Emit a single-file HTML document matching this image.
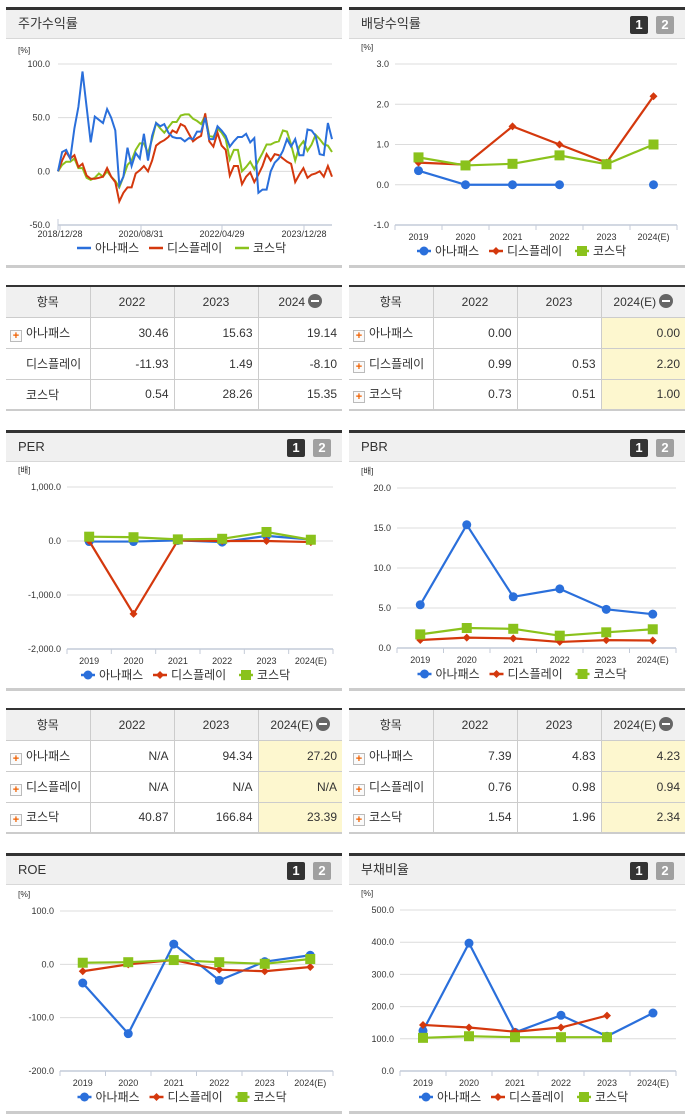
<!DOCTYPE html>
<html><head><meta charset="utf-8">
<style>
*{margin:0;padding:0;box-sizing:border-box}
body{width:691px;height:1115px;background:#fff;position:relative;overflow:hidden;font-family:"Liberation Sans","Noto Sans CJK KR",sans-serif;color:#333}
.hdr{position:absolute;height:32px;background:#f0f0f0;border-top:3px solid #333;border-bottom:1px solid #d8d8d8;font-size:13px;line-height:28px;padding-left:12px}
.btn{position:absolute;top:6px;width:18px;height:18px;font-size:13px;font-weight:bold;color:#fff;text-align:center;line-height:18px;border-radius:2px}
.b1{background:#333;right:37px}.b2{background:#a0a0a0;right:11px}
.foot{position:absolute;height:3px;background:#ccc}
table{position:absolute;border-collapse:collapse;border-top:2px solid #333;border-bottom:2px solid #ccc;font-size:12px;width:336px;table-layout:fixed}
th{background:#f0f0f0;font-weight:normal;height:31px;border-left:1px solid #ccc;border-bottom:1px solid #ccc}
th:first-child{border-left:none}
td{height:31px;border-left:1px solid #ccc;border-bottom:1px solid #ccc;text-align:right;padding-right:5px}
td:first-child{border-left:none;text-align:left;padding-left:4px}
td.y{background:#fdf7cf}th.y{background:#f0f0f0}
.pl{display:inline-block;width:12px;height:12px;border:1px solid #bbb;background:#fafafa;color:#f06000;font-size:11px;line-height:10px;text-align:center;font-weight:bold;margin-right:4px;vertical-align:-2px}
.sp{display:inline-block;width:16px}
.mi{display:inline-block;width:14px;height:14px;border-radius:7px;background:#666;vertical-align:-2px;position:relative;margin-left:3px}
.mi:after{content:"";position:absolute;left:3px;top:6px;width:8px;height:2px;background:#fff}
svg{position:absolute;left:0;top:0}
</style></head><body>
<div class="hdr" style="left:6px;top:7px;width:336px">주가수익률</div>
<div class="hdr" style="left:349px;top:7px;width:336px">배당수익률<span class="btn b1">1</span><span class="btn b2">2</span></div>
<div class="hdr" style="left:6px;top:430px;width:336px">PER<span class="btn b1">1</span><span class="btn b2">2</span></div>
<div class="hdr" style="left:349px;top:430px;width:336px">PBR<span class="btn b1">1</span><span class="btn b2">2</span></div>
<div class="hdr" style="left:6px;top:853px;width:336px">ROE<span class="btn b1">1</span><span class="btn b2">2</span></div>
<div class="hdr" style="left:349px;top:853px;width:336px">부채비율<span class="btn b1">1</span><span class="btn b2">2</span></div>
<div class="foot" style="left:6px;top:265px;width:336px"></div>
<div class="foot" style="left:349px;top:265px;width:336px"></div>
<div class="foot" style="left:6px;top:688px;width:336px"></div>
<div class="foot" style="left:349px;top:688px;width:336px"></div>
<div class="foot" style="left:6px;top:1111px;width:336px"></div>
<div class="foot" style="left:349px;top:1111px;width:336px"></div>

<table style="left:6px;top:285px">
<tr><th>항목</th><th>2022</th><th>2023</th><th>2024<span class="mi"></span></th></tr>
<tr><td><span class="pl">+</span>아나패스</td><td>30.46</td><td>15.63</td><td>19.14</td></tr>
<tr><td><span class="sp"></span>디스플레이</td><td>-11.93</td><td>1.49</td><td>-8.10</td></tr>
<tr><td><span class="sp"></span>코스닥</td><td>0.54</td><td>28.26</td><td>15.35</td></tr>
</table>
<table style="left:349px;top:285px">
<tr><th>항목</th><th>2022</th><th>2023</th><th class="y">2024(E)<span class="mi"></span></th></tr>
<tr><td><span class="pl">+</span>아나패스</td><td>0.00</td><td></td><td class="y">0.00</td></tr>
<tr><td><span class="pl">+</span>디스플레이</td><td>0.99</td><td>0.53</td><td class="y">2.20</td></tr>
<tr><td><span class="pl">+</span>코스닥</td><td>0.73</td><td>0.51</td><td class="y">1.00</td></tr>
</table>
<table style="left:6px;top:708px">
<tr><th>항목</th><th>2022</th><th>2023</th><th class="y">2024(E)<span class="mi"></span></th></tr>
<tr><td><span class="pl">+</span>아나패스</td><td>N/A</td><td>94.34</td><td class="y">27.20</td></tr>
<tr><td><span class="pl">+</span>디스플레이</td><td>N/A</td><td>N/A</td><td class="y">N/A</td></tr>
<tr><td><span class="pl">+</span>코스닥</td><td>40.87</td><td>166.84</td><td class="y">23.39</td></tr>
</table>
<table style="left:349px;top:708px">
<tr><th>항목</th><th>2022</th><th>2023</th><th class="y">2024(E)<span class="mi"></span></th></tr>
<tr><td><span class="pl">+</span>아나패스</td><td>7.39</td><td>4.83</td><td class="y">4.23</td></tr>
<tr><td><span class="pl">+</span>디스플레이</td><td>0.76</td><td>0.98</td><td class="y">0.94</td></tr>
<tr><td><span class="pl">+</span>코스닥</td><td>1.54</td><td>1.96</td><td class="y">2.34</td></tr>
</table>

<svg id="c" width="691" height="1115" xmlns="http://www.w3.org/2000/svg"></svg>
<script>
// ---- data ----
const stockDates = ["2018/12/28","2020/08/31","2022/04/29","2023/12/28"];
const stockTicks = [100,50,0,-50];
const stockAnapass = [0,18,20,12,40,60,93,60,27,51,48,45,58,50,38,-13,-5,22,5,17,12,35,10,33,45,42,44,36,32,31,31,28,31,30,37,37,50,30,30,42,38,33,23,28,32,32,35,27,31,-20,-17,-17,0,8,12,19,30,23,30,15,15,39,38,33,16,15,45,30];
const stockDisplay = [0,10,18,12,15,4,7,-4,-7,-7,-6,-5,3,-5,-10,-28,-20,-15,-15,-2,1,5,0,10,24,27,29,32,38,36,44,42,35,28,31,33,54,28,23,36,24,20,-4,5,5,-12,-5,-1,-10,-3,5,16,10,16,15,12,9,7,-10,-3,3,-6,-3,-2,0,-5,5,-5];
const stockKosdaq = [0,6,9,9,12,3,3,-6,-8,-6,-2,-5,0,-5,-9,-15,-5,6,10,20,26,26,17,30,45,40,36,41,46,46,52,53,53,49,47,44,52,33,32,40,36,30,11,20,20,0,4,9,2,10,17,25,25,27,28,38,37,25,10,23,28,19,25,34,30,25,24,18];
const years = ["2019","2020","2021","2022","2023","2024(E)"];
const divAnapass = [0.35,0,0,0,null,0];
const divDisplay = [0.55,0.5,1.45,1.0,0.55,2.2];
const divKosdaq = [0.68,0.48,0.52,0.73,0.51,1.0];
const divTicks = [3,2,1,0,-1];
const perAnapass = [-10,-10,10,-20,94.34,27.2];
const perDisplay = [0,-1350,10,0,0,-20];
const perKosdaq = [80,70,30,40.87,166.84,23.39];
const perTicks = [1000,0,-1000,-2000];
const pbrAnapass = [5.4,15.4,6.4,7.39,4.83,4.23];
const pbrDisplay = [1.0,1.3,1.2,0.76,0.98,0.94];
const pbrKosdaq = [1.7,2.5,2.4,1.54,1.96,2.34];
const pbrTicks = [20,15,10,5,0];
const roeAnapass = [-35,-130,38,-30,5,17];
const roeDisplay = [-13,0,8,-10,-13,-5];
const roeKosdaq = [3,4,8,4,1,10];
const roeTicks = [100,0,-100,-200];
const debtAnapass = [125,397,120,173,108,180];
const debtDisplay = [143,135,122,135,172,null];
const debtKosdaq = [103,108,105,105,105,null];
const debtTicks = [500,400,300,200,100,0];
const seriesNames = ["아나패스","디스플레이","코스닥"];

const BLUE="#2a6fdb", RED="#d4380d", GREEN="#8ac21c";
const svg=document.getElementById('c');
const NS="http://www.w3.org/2000/svg";
function el(t,a,p){const e=document.createElementNS(NS,t);for(const k in a)e.setAttribute(k,a[k]);(p||svg).appendChild(e);return e;}
function txt(x,y,s,size,anchor,p){const e=el('text',{x:x,y:y,'font-size':size,'text-anchor':anchor||'start',fill:'#333','font-family':'Liberation Sans, Noto Sans CJK KR, sans-serif'},p);e.textContent=s;return e;}
function fmt(v){const s=Math.abs(v).toFixed(1).replace(/\B(?=(\d{3})+(?!\d))/g,',');return (v<0?'-':'')+s;}

function marker(g,type,x,y,c){
  let m;
  if(type==='c')m=el('circle',{cx:x,cy:y,r:4.5,fill:c},g);
  else if(type==='d')m=el('path',{d:`M${x} ${y-4}L${x+4} ${y}L${x} ${y+4}L${x-4} ${y}Z`,fill:c},g);
  else m=el('rect',{x:x-5,y:y-5,width:10,height:10,fill:c},g);
  
  
}
function legend(cx,y,markers){
  const g=el('g',{});
  
  
  const cols=[BLUE,RED,GREEN];const w=[72,86,60];
  let x=cx-109;
  for(let i=0;i<3;i++){
    const it=el('g',{},g);
    
    
    el('line',{x1:x,y1:y-4,x2:x+14,y2:y-4,stroke:cols[i],'stroke-width':2.5},it);
    if(markers)marker(it,['c','d','s'][i],x+7,y-4,cols[i]);
    txt(x+18,y,seriesNames[i],12,'start',it);
    x+=w[i];
  }
}
function lineChart(o){
  const g=el('g',{});
  
  
  const ys=v=>o.y0+(o.ticks[0]-v)/(o.ticks[0]-o.ticks[o.ticks.length-1])*(o.y1-o.y0);
  txt(o.ux,o.y0-14,o.unit,8.5,'start',g);
  o.ticks.forEach(t=>{
    el('line',{x1:o.x0,y1:ys(t),x2:o.x1,y2:ys(t),stroke:'#dcdcdc','stroke-width':1},g);
    const l=txt(o.x0-6,ys(t)+3,fmt(t),9,'end',g);
    
    
  });
  el('line',{x1:o.x0,y1:o.y1,x2:o.x1,y2:o.y1,stroke:'#c4cbd8','stroke-width':1.5},g);
  const n=o.cats.length,w=(o.x1-o.x0)/n;
  const xs=i=>o.x0+(i+0.5)*w;
  for(let i=0;i<=n;i++)el('line',{x1:o.x0+i*w,y1:o.y1,x2:o.x0+i*w,y2:o.y1+5,stroke:'#c4cbd8'},g);
  o.cats.forEach((c,i)=>{const l=txt(xs(i),o.y1+15,c,9,'middle',g);});
  const cols=[BLUE,RED,GREEN],mk=['c','d','s'];
  o.series.forEach((s,k)=>{
    const sg=el('g',{},g);
    
    
    let d='',pen=false;
    s.forEach((v,i)=>{if(v===null){pen=false;return;}d+=(pen?'L':'M')+xs(i)+' '+ys(v);pen=true;});
    el('path',{d:d,fill:'none',stroke:cols[k],'stroke-width':2.2},sg);
    s.forEach((v,i)=>{if(v!==null)marker(sg,mk[k],xs(i),ys(v),cols[k]);});
  });
  legend((o.x0+o.x1)/2-10,o.y1+30,true);
}
// stock chart
(function(){
  const g=el('g',{});
  
  
  const x0=58,x1=332,y0=64,y1=225;
  const ys=v=>y0+(100-v)/150*(y1-y0);
  txt(18,53,'[%]',8.5,'start',g);
  stockTicks.forEach(t=>{el('line',{x1:x0,y1:ys(t),x2:x1,y2:ys(t),stroke:'#dcdcdc'},g);txt(x0-8,ys(t)+3,fmt(t),9,'end',g);});
  el('line',{x1:x0,y1:y1,x2:x1,y2:y1,stroke:'#c4cbd8','stroke-width':1.5},g);
  const lx=[60,141,222,304];
  stockDates.forEach((d,i)=>{el('line',{x1:lx[i],y1:y1,x2:lx[i],y2:y1+5,stroke:'#c4cbd8'},g);txt(lx[i],y1+12,d,9,'middle',g);});
  el('line',{x1:x0,y1:y1-6,x2:x0,y2:y1+5,stroke:'#c4cbd8'},g);
  [[stockKosdaq,GREEN,'series-kosdaq'],[stockDisplay,RED,'series-display'],[stockAnapass,BLUE,'series-anapass']].forEach(([s,c,nm])=>{
    const xs=i=>x0+i*(x1-x0)/(s.length-1);
    const p=el('path',{d:s.map((v,i)=>(i?'L':'M')+xs(i).toFixed(1)+' '+ys(v).toFixed(1)).join(''),fill:'none',stroke:c,'stroke-width':2},g);
    
    
  });
  legend(186,252,false);
})();
lineChart({name:'dividend-yield-chart',x0:395,x1:677,y0:64,y1:225,ux:361,unit:'[%]',ticks:divTicks,cats:years,series:[divAnapass,divDisplay,divKosdaq]});
lineChart({name:'per-chart',x0:67,x1:333,y0:487,y1:649,ux:18,unit:'[배]',ticks:perTicks,cats:years,series:[perAnapass,perDisplay,perKosdaq]});
lineChart({name:'pbr-chart',x0:397,x1:676,y0:488,y1:648,ux:361,unit:'[배]',ticks:pbrTicks,cats:years,series:[pbrAnapass,pbrDisplay,pbrKosdaq]});
lineChart({name:'roe-chart',x0:60,x1:333,y0:911,y1:1071,ux:18,unit:'[%]',ticks:roeTicks,cats:years,series:[roeAnapass,roeDisplay,roeKosdaq]});
lineChart({name:'debt-ratio-chart',x0:400,x1:676,y0:910,y1:1071,ux:361,unit:'[%]',ticks:debtTicks,cats:years,series:[debtAnapass,debtDisplay,debtKosdaq]});
</script>
</body></html>
